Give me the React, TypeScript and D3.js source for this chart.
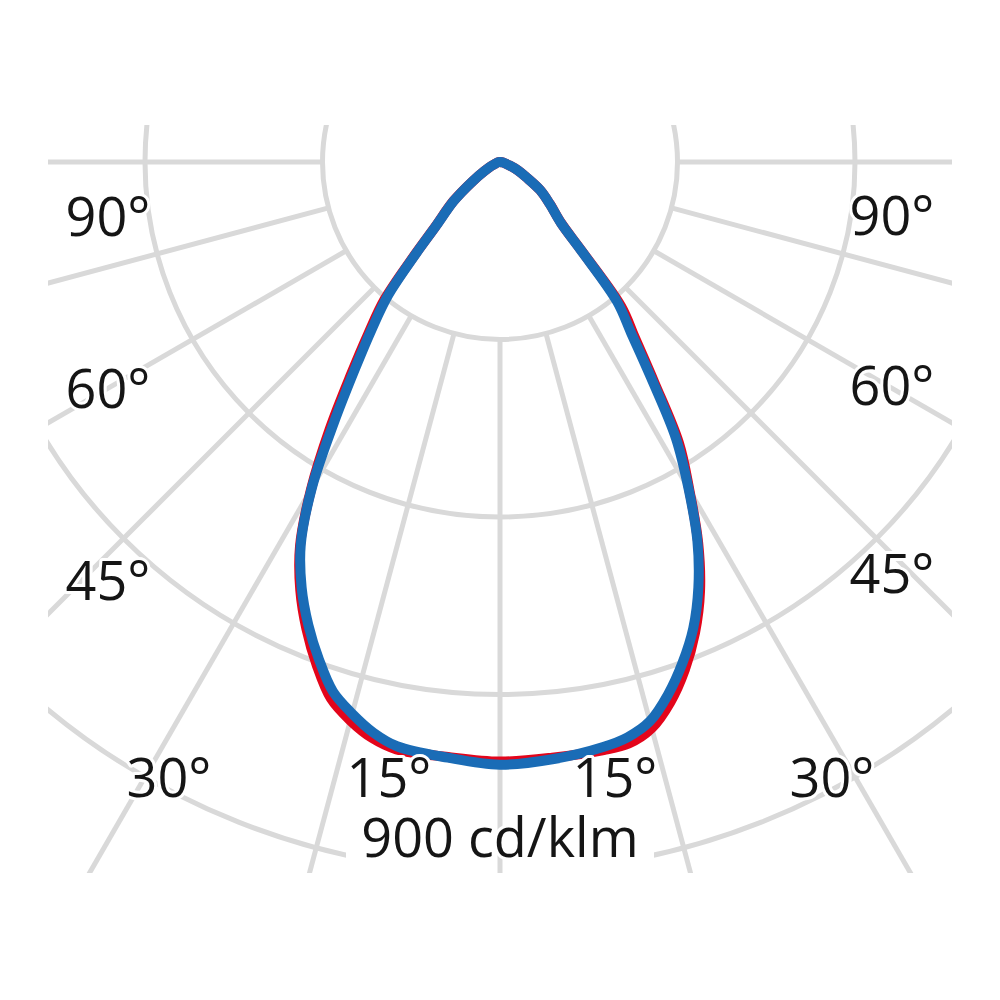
import React from "react";
import * as d3 from "d3";

// Polar angles (degrees from nadir) at which intensities are read
const angles = [0, 5, 10, 12.5, 15, 17.5, 20, 22.5, 25, 27.5, 30, 32.5, 35, 37.5, 40, 42.5, 45, 50, 55, 60, 65, 70, 80, 90];
// Intensities in cd/klm
const blueLeft = [764, 758, 752, 741, 724, 704, 671, 635, 595, 547, 477, 392, 321, 267, 221, 158, 115, 76, 42, 23, 13, 6, 3, 0];
const blueRight = [764, 760, 753, 747, 734, 708, 676, 640, 595, 542, 478, 415, 334, 273, 231, 153, 109, 82, 62, 38, 25, 13, 4, 0];
const redLeft = [760, 757, 756, 748, 733, 713, 679, 641, 599, 549, 479, 402, 330, 274, 228, 161, 116, 77, 42, 23, 13, 6, 3, 0];
const redRight = [760, 758, 757, 755, 743, 718, 685, 646, 600, 544, 480, 422, 341, 281, 239, 155, 110, 82, 62, 38, 25, 13, 4, 0];

const ringValues = [225, 450, 675, 900];
const spokeAngles = [0, 15, 30, 45, 60, 75, 90];
const sideLabels = ["90°", "60°", "45°"];
const bottomLabels = ["30°", "15°", "15°", "30°"];
const scaleLabel = "900 cd/klm";

// layout
const W = 1000;
const H = 1000;
const cx = 500;
const cy = 162;
const clip = { x: 48, y: 125, w: 904, h: 748 };
const sideLayout = [
  { lx: 108, rx: 892, ly: 236, ry: 235 },
  { lx: 108, rx: 892, ly: 408, ry: 405 },
  { lx: 108, rx: 892, ly: 600, ry: 593 },
];
const bottomLayout = [169, 389, 615, 832];
const bottomY = 797;

const GRID = "#d9d9d9";
const BLUE = "#1a6cb6";
const RED = "#e3051b";

export default function App() {
  const r = d3.scaleLinear().domain([0, 900]).range([0, 710]);
  const rad = (d: number) => (d * Math.PI) / 180;

  const buildPoints = (left: number[], right: number[]) => {
    const pts: [number, number][] = [];
    for (let i = angles.length - 1; i >= 0; i--) pts.push([Math.PI + rad(angles[i]), r(left[i])]);
    for (let i = 1; i < angles.length; i++) pts.push([Math.PI - rad(angles[i]), r(right[i])]);
    return pts;
  };

  const line = d3
    .lineRadial<[number, number]>()
    .angle((d) => d[0])
    .radius((d) => d[1])
    .curve(d3.curveCatmullRom.alpha(0.5));

  const redPath = line(buildPoints(redLeft, redRight)) || "";
  const bluePath = line(buildPoints(blueLeft, blueRight)) || "";

  const innerR = r(ringValues[0]);
  const spokeEnd = 1400;

  const spokes: { x1: number; y1: number; x2: number; y2: number }[] = [];
  spokeAngles.forEach((a) => {
    const sides = a === 0 ? [1] : [-1, 1];
    sides.forEach((s) => {
      const t = rad(a);
      spokes.push({
        x1: cx + s * innerR * Math.sin(t),
        y1: cy + innerR * Math.cos(t),
        x2: cx + s * spokeEnd * Math.sin(t),
        y2: cy + spokeEnd * Math.cos(t),
      });
    });
  });

  const textStyle: React.CSSProperties = {
    fontFamily: "'Open Sans', sans-serif",
    fontSize: 54,
    fill: "#151515",
    stroke: "#ffffff",
    strokeWidth: 6,
    paintOrder: "stroke",
    strokeLinejoin: "round",
  };

  return (
    <svg
      width={W}
      height={H}
      viewBox={`0 0 ${W} ${H}`}
      style={{ position: "absolute", left: 0, top: 0, background: "#fff" }}
    >
      <defs>
        <clipPath id="frame">
          <rect x={clip.x} y={clip.y} width={clip.w} height={clip.h} />
        </clipPath>
      </defs>
      <rect x={0} y={0} width={W} height={H} fill="#fff" />
      <g clipPath="url(#frame)">
        {ringValues.map((v) => (
          <circle key={v} cx={cx} cy={cy} r={r(v)} fill="none" stroke={GRID} strokeWidth={5} />
        ))}
        <rect x={346} y={808} width={308} height={80} fill="#fff" />
        {spokes.map((s, i) => (
          <line key={i} x1={s.x1} y1={s.y1} x2={s.x2} y2={s.y2} stroke={GRID} strokeWidth={5} />
        ))}
        <g transform={`translate(${cx},${cy})`}>
          <path d={redPath} fill="none" stroke={RED} strokeWidth={10} strokeLinejoin="round" strokeLinecap="round" />
          <path d={bluePath} fill="none" stroke={BLUE} strokeWidth={10} strokeLinejoin="round" strokeLinecap="round" />
        </g>
      </g>
      {sideLabels.map((t, i) => (
        <g key={t}>
          <text x={sideLayout[i].lx} y={sideLayout[i].ly} textAnchor="middle" style={textStyle}>
            {t}
          </text>
          <text x={sideLayout[i].rx} y={sideLayout[i].ry} textAnchor="middle" style={textStyle}>
            {t}
          </text>
        </g>
      ))}
      {bottomLabels.map((t, i) => (
        <text key={i} x={bottomLayout[i]} y={bottomY} textAnchor="middle" style={textStyle}>
          {t}
        </text>
      ))}
      <text x={cx} y={857} textAnchor="middle" style={textStyle}>
        {scaleLabel}
      </text>
    </svg>
  );
}
